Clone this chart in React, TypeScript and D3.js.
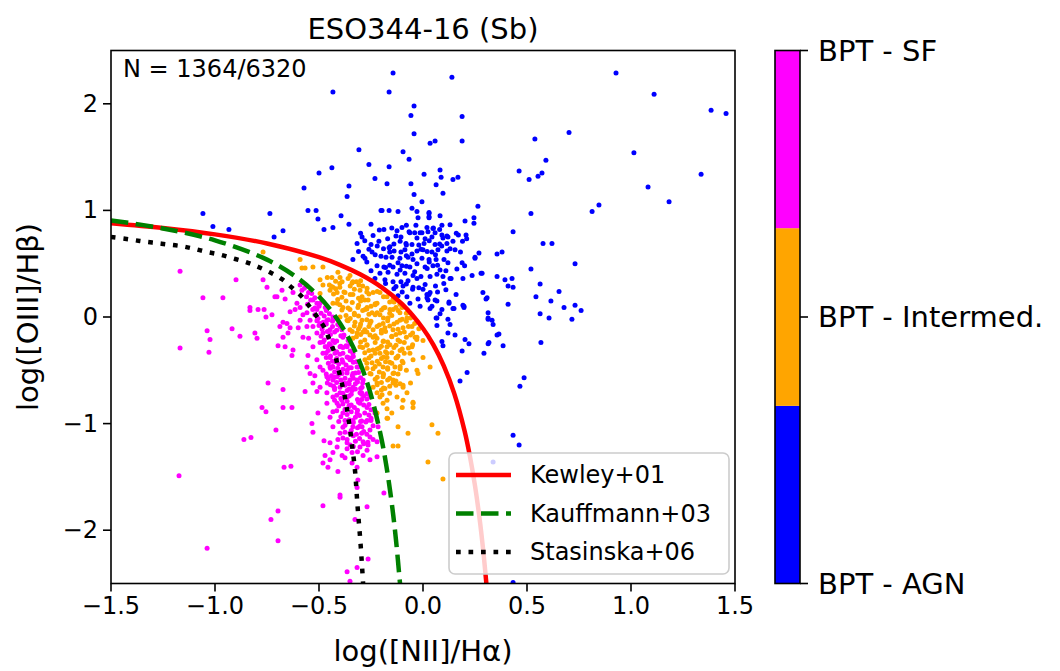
import React from "react";
import * as d3 from "d3";

// ---------- data ----------
const xTicks = [-1.5, -1.0, -0.5, 0.0, 0.5, 1.0, 1.5];
const yTicks = [-2, -1, 0, 1, 2];
const colorbarLabels = ["BPT - AGN", "BPT - Intermed.", "BPT - SF"];
const colorbarColors = ["#0000ff", "#ffa500", "#ff00ff"];
const legendLabels = ["Kewley+01", "Kauffmann+03", "Stasinska+06"];

const kewleyCurve: [number, number][] = [
  [-1.5, 0.88], [-1.25, 0.835], [-1.0, 0.775], [-0.75, 0.69], [-0.5, 0.561], [-0.4, 0.489],
  [-0.3, 0.398], [-0.2, 0.28], [-0.1, 0.12], [0.0, -0.108], [0.05, -0.262], [0.1, -0.459],
  [0.15, -0.716], [0.2, -1.069], [0.225, -1.3], [0.25, -1.583], [0.27, -1.86], [0.29, -2.199], [0.305, -2.507],
];
const kauffmannCurve: [number, number][] = [
  [-1.5, 0.906], [-1.25, 0.831], [-1.0, 0.719], [-0.75, 0.538], [-0.6, 0.362], [-0.5, 0.191],
  [-0.45, 0.08], [-0.4, -0.056], [-0.35, -0.225], [-0.3, -0.443], [-0.25, -0.733], [-0.2, -1.14],
  [-0.175, -1.411], [-0.15, -1.75], [-0.13, -2.089], [-0.11, -2.5125],
];
const stasinskaCurve: [number, number][] = [
  [-1.5, 0.75], [-1.418, 0.73], [-1.351, 0.71], [-1.288, 0.695], [-1.226, 0.68], [-1.163, 0.665],
  [-1.101, 0.64], [-1.038, 0.61], [-0.976, 0.585], [-0.913, 0.55], [-0.851, 0.515], [-0.793, 0.47],
  [-0.736, 0.42], [-0.678, 0.355], [-0.63, 0.275], [-0.582, 0.19], [-0.543, 0.09], [-0.505, -0.01],
  [-0.471, -0.11], [-0.447, -0.23], [-0.423, -0.35], [-0.409, -0.47], [-0.394, -0.59], [-0.38, -0.71],
  [-0.367, -0.84], [-0.358, -0.96], [-0.348, -1.09], [-0.341, -1.21], [-0.333, -1.33], [-0.326, -1.46],
  [-0.321, -1.59], [-0.317, -1.71], [-0.312, -1.84], [-0.307, -1.96], [-0.302, -2.08], [-0.297, -2.22],
  [-0.293, -2.34], [-0.288, -2.5],
];

const agnPoints: [number, number][] = [
  [-0.144,2.29],[-0.433,2.11],[-0.163,2.11],[-0.043,1.98],[-0.058,1.89],[-0.043,1.72],[-0.308,1.57],[-0.096,1.55],[-0.067,1.48],[-0.26,1.43],[-0.438,1.4],[-0.163,1.41],[-0.5,1.35],[-0.231,1.3],[-0.356,1.23],[-0.173,1.25],[-0.058,1.25],[-0.572,1.21],[-0.043,1.15],[-0.365,1.13],[-0.553,1.0],[-0.514,1.0],[-0.505,0.92],[-0.394,0.95],[-0.202,1.0],[-0.163,1.0],[-0.12,0.99],[-0.053,1.02],[-1.058,0.97],[-0.736,0.97],[-1.01,0.85],[-0.933,0.82],[-0.673,0.81],[-0.716,0.75],[-0.476,0.82],[-0.433,0.84],[-0.293,0.75],[-0.188,0.82],[-0.125,0.81],[-0.101,0.84],[-0.034,0.86],[-0.063,0.79],
  [0.139,2.25],[0.928,2.29],[1.111,2.09],[1.385,1.94],[1.457,1.91],[0.188,1.88],[0.034,1.63],[0.058,1.65],[0.188,1.65],[0.538,1.67],[0.702,1.73],[0.591,1.47],[1.014,1.54],[0.005,1.34],[0.082,1.38],[0.087,1.31],[0.063,1.24],[0.096,1.16],[0.144,1.29],[0.168,1.31],[0.462,1.37],[0.51,1.29],[0.553,1.32],[0.572,1.35],[1.337,1.34],[1.082,1.22],[1.183,1.08],[0.264,1.04],[-0.005,1.08],[0.029,0.98],[0.029,0.94],[0.202,0.9],[0.245,0.93],[0.245,0.88],[0.519,0.97],[0.813,0.99],[0.846,1.05],[0.091,0.86],[0.433,0.8],[0.207,0.77],[0.019,0.84],[0.048,0.83],[-0.005,0.79],[0.058,0.79],[0.12,0.75],[0.091,0.77],
  [0.577,0.69],[0.62,0.69],[0.731,0.5],[0.519,0.45],[0.38,0.61],[0.356,0.59],[0.269,0.6],[0.25,0.55],[0.188,0.51],[0.163,0.45],[0.279,0.41],[0.236,0.39],[0.356,0.38],[0.394,0.35],[0.428,0.36],[0.409,0.29],[0.433,0.28],[0.192,0.36],[0.135,0.36],[0.096,0.38],[0.563,0.31],[0.654,0.24],[0.288,0.23],[0.303,0.17],[0.543,0.19],[0.615,0.15],[0.678,0.09],[0.731,0.11],[0.76,0.06],[0.409,0.12],[0.159,0.21],[0.125,0.13],[0.144,0.08],[0.192,0.11],[0.197,0.09],[0.313,0.04],[0.313,-0.02],[0.332,-0.03],[0.337,-0.07],[0.563,0.03],[0.606,-0.01],[0.716,-0.02],[0.091,0.07],[0.082,0.03],[0.067,-0.01],[0.067,-0.08],[0.13,-0.07],[0.12,-0.15],[0.154,-0.17],[0.365,-0.16],[0.356,-0.17],[0.202,-0.21],[0.221,-0.25],[0.317,-0.24],[0.313,-0.25],[0.385,-0.27],[0.293,-0.34],[0.188,-0.32],[0.091,-0.23],[0.096,-0.27],[0.567,-0.24],[0.212,-0.52],[0.178,-0.6],[0.486,-0.57],[0.466,-0.65],[0.024,0.16],[0.0,0.26],[0.029,0.21],[0.019,0.18],[0.043,0.1],[0.058,0.16],
  [0.433,-1.11],[0.462,-1.2],[0.433,-2.49],[0.337,-1.36],
  [-0.197,1.0],[-0.029,0.99],[0.029,0.97],[-0.024,0.93],[0.029,0.93],[0.082,0.95],[-0.356,0.87],[-0.067,0.8],[-0.014,0.79],[0.024,0.8],[0.115,0.76],[-0.317,0.69],[-0.25,0.68],[-0.212,0.71],[-0.159,0.66],[-0.106,0.75],[-0.082,0.69],[-0.053,0.68],[-0.029,0.74],[0.005,0.69],[0.043,0.75],[0.058,0.68],[0.096,0.74],[0.115,0.69],[0.144,0.71],[0.154,0.63],[0.115,0.62],[0.072,0.63],[0.043,0.61],[0.0,0.63],[-0.029,0.62],[-0.053,0.59],[-0.087,0.63],[-0.106,0.61],[-0.139,0.62],[-0.163,0.65],[-0.288,0.57],[-0.279,0.55],[-0.245,0.61],[-0.202,0.57],[-0.178,0.56],[-0.149,0.56],[-0.111,0.55],[-0.072,0.56],[-0.048,0.54],[-0.005,0.55],[0.029,0.54],[0.063,0.54],[0.101,0.54],[-0.337,0.54],[-0.221,0.48],[-0.188,0.47],[-0.144,0.47],[-0.101,0.48],[-0.063,0.47],[-0.029,0.5],[0.01,0.47],[0.048,0.48],[0.082,0.44],[0.25,0.56],[-0.207,0.41],[-0.168,0.42],[-0.125,0.4],[-0.087,0.41],[-0.048,0.39],[-0.01,0.38],[0.034,0.38],[0.067,0.4],[0.13,0.36],[0.284,0.41],[-0.231,0.36],[-0.183,0.35],[-0.144,0.33],[-0.106,0.33],[-0.072,0.34],[-0.029,0.36],[-0.096,0.29],[-0.048,0.28],[0.034,0.23],[-0.12,0.2],[-0.077,0.19],[-0.024,0.17],[0.019,0.21],[0.067,0.15],[0.125,0.14],[0.197,0.1],[-0.063,0.13],[-0.014,0.1],[0.034,0.08],[0.063,-0.01],[0.12,-0.02],[0.149,0.08],[0.308,0.18],[0.313,-0.01],
  [-0.25,0.87],[-0.15,0.835],[-0.08,0.86],[0.05,0.835],[0.13,0.865],[-0.3,0.785],[-0.21,0.815],[-0.04,0.79],[0.08,0.82],[0.16,0.785],[-0.24,0.765],[-0.17,0.735],[-0.13,0.76],[0.01,0.735],[0.17,0.77],[0.21,0.735],[-0.28,0.715],[-0.14,0.685],[-0.11,0.71],[-0.02,0.675],[0.03,0.715],[0.08,0.685],[0.19,0.71],[-0.26,0.635],[-0.22,0.665],[-0.19,0.64],[-0.08,0.675],[-0.01,0.635],[0.09,0.665],[0.13,0.64],[-0.31,0.615],[-0.23,0.585],[-0.16,0.61],[-0.08,0.575],[0.02,0.615],[0.06,0.585],[0.18,0.61],[-0.27,0.515],[-0.16,0.485],[-0.12,0.51],[-0.08,0.475],[0.03,0.515],[0.07,0.485],[0.12,0.51],[0.2,0.48],[-0.25,0.435],[-0.18,0.465],[-0.11,0.44],[-0.04,0.425],[0.02,0.455],[0.11,0.435],[-0.18,0.315],[-0.13,0.285],[-0.08,0.31],[-0.02,0.275],[0.01,0.305],[0.06,0.29],[0.1,0.315],[-0.14,0.265],[-0.1,0.235],[-0.05,0.26],[0.07,0.235],[0.11,0.255],
];

const intermedPoints: [number, number][] = [
  [-0.582,0.46],[-0.481,0.47],[-0.409,0.42],[-0.351,0.39],[-0.438,0.37],[-0.389,0.33],[-0.341,0.32],[-0.308,0.3],[-0.269,0.27],[-0.24,0.23],[-0.207,0.23],[-0.173,0.19],[-0.139,0.14],[-0.101,0.09],[-0.481,0.3],[-0.447,0.25],[-0.413,0.23],[-0.375,0.23],[-0.337,0.21],[-0.293,0.19],[-0.264,0.16],[-0.221,0.13],[-0.183,0.09],[-0.144,0.07],[-0.111,0.04],[-0.077,-0.01],[-0.413,0.13],[-0.385,0.09],[-0.351,0.07],[-0.313,0.09],[-0.279,0.07],[-0.245,0.04],[-0.207,0.02],[-0.168,-0.01],[-0.125,-0.05],[-0.399,0.0],[-0.365,-0.03],[-0.327,-0.05],[-0.293,-0.03],[-0.255,-0.06],[-0.221,-0.09],[-0.183,-0.1],[-0.144,-0.12],[-0.096,-0.1],[-0.053,-0.09],[-0.038,-0.19],[0.0,-0.22],[-0.351,-0.12],[-0.317,-0.15],[-0.288,-0.14],[-0.255,-0.17],[-0.221,-0.2],[-0.192,-0.23],[-0.159,-0.26],[-0.111,-0.23],[-0.303,-0.28],[-0.269,-0.26],[-0.24,-0.31],[-0.207,-0.34],[-0.173,-0.38],[-0.125,-0.38],[-0.279,-0.4],[-0.245,-0.43],[-0.192,-0.47],[-0.135,-0.47],[-0.096,-0.43],[-0.048,-0.4],[0.0,-0.38],[-0.255,-0.53],[-0.192,-0.56],[-0.144,-0.59],[-0.096,-0.66],[-0.029,-0.5],[-0.183,-0.67],[-0.125,-0.75],[-0.077,-0.71],[-0.048,-0.81],[-0.173,-0.78],[-0.221,-0.71],[0.034,-0.47],[-0.221,-0.62],[-0.269,-0.48],
  [-0.769,0.61],[-0.591,0.54],[-0.567,0.46],[-0.529,0.47],[-0.495,0.35],[-0.433,0.28],[-0.399,0.37],[-0.337,0.33],[-0.303,0.25],[-0.144,0.17],[-0.111,0.12],[-0.063,0.04],[-0.029,-0.19],[-0.053,-0.28],[-0.063,-0.34],[-0.173,-0.34],[-0.173,-0.28],[-0.144,-0.53],[-0.192,-0.53],[-0.24,-0.66],[-0.207,-0.75],[-0.337,-0.2],[-0.433,0.13],[-0.495,0.22],[-0.269,0.09],[-0.221,0.04],[-0.192,-0.06],[-0.24,-0.12],[-0.303,-0.09],[-0.111,-0.15],[-0.111,-0.03],[-0.159,0.07],[-0.024,-0.53],
  [-0.3,0.15],[-0.25,0.1],[-0.2,-0.15],[-0.15,-0.18],[-0.1,-0.3],[-0.05,-0.15],[-0.18,-0.42],[-0.22,-0.3],[-0.28,-0.12],[-0.33,0.02],[-0.37,0.15],[-0.45,0.3],[-0.4,0.28],[-0.3,0.34],[-0.13,-0.6],[-0.08,-0.5],[-0.16,-0.65],[-0.06,-0.62],[-0.1,-0.85],[-0.15,-0.9],[-0.12,-1.03],[-0.17,-0.95],
  [-0.192,-0.81],[-0.221,-0.9],[-0.173,-0.86],[-0.173,-0.95],[-0.096,-0.78],[-0.048,-0.8],[-0.048,-0.85],[-0.072,-1.09],[-0.144,-1.21],[-0.12,-1.21],[-0.144,-0.62],[-0.096,-0.64],[-0.197,-0.73],
  [0.043,-1.01],[0.072,-1.09],[0.024,-1.36],[0.096,-1.52],
  [-0.46,0.37],[-0.42,0.335],[-0.36,0.36],[-0.32,0.33],[-0.44,0.285],[-0.4,0.315],[-0.35,0.29],[-0.29,0.29],[-0.42,0.265],[-0.38,0.235],[-0.33,0.26],[-0.27,0.235],[-0.22,0.24],[-0.43,0.215],[-0.39,0.185],[-0.35,0.21],[-0.31,0.175],[-0.26,0.215],[-0.19,0.19],[-0.41,0.165],[-0.34,0.135],[-0.28,0.16],[-0.23,0.125],[-0.16,0.14],[-0.4,0.115],[-0.36,0.085],[-0.31,0.11],[-0.27,0.075],[-0.23,0.115],[-0.19,0.085],[-0.13,0.09],[-0.39,0.065],[-0.33,0.035],[-0.29,0.06],[-0.26,0.025],[-0.2,0.065],[-0.16,0.035],[-0.12,0.06],[-0.08,0.035],[-0.37,0.015],[-0.35,-0.015],[-0.31,0.01],[-0.27,-0.025],[-0.23,0.02],[-0.19,-0.01],[-0.15,0.015],[-0.1,-0.02],[-0.06,-0.01],[-0.36,-0.035],[-0.3,-0.065],[-0.25,-0.04],[-0.21,-0.075],[-0.17,-0.035],[-0.14,-0.065],[-0.08,-0.04],[-0.04,-0.06],[-0.33,-0.085],[-0.31,-0.115],[-0.26,-0.09],[-0.2,-0.125],[-0.16,-0.085],[-0.12,-0.115],[-0.07,-0.09],[-0.02,-0.11],[-0.34,-0.135],[-0.3,-0.165],[-0.27,-0.14],[-0.23,-0.175],[-0.18,-0.135],[-0.13,-0.165],[-0.09,-0.14],[-0.06,-0.17],[-0.32,-0.185],[-0.28,-0.215],[-0.24,-0.19],[-0.19,-0.225],[-0.15,-0.185],[-0.12,-0.215],[-0.08,-0.19],[-0.03,-0.21],[-0.3,-0.235],[-0.27,-0.265],[-0.23,-0.24],[-0.2,-0.275],[-0.17,-0.235],[-0.13,-0.265],[-0.09,-0.24],[-0.05,-0.26],[-0.29,-0.285],[-0.26,-0.315],[-0.21,-0.29],[-0.18,-0.325],[-0.14,-0.285],[-0.11,-0.315],[-0.07,-0.29],[-0.28,-0.335],[-0.25,-0.365],[-0.23,-0.34],[-0.19,-0.375],[-0.15,-0.335],[-0.12,-0.365],[-0.09,-0.34],[-0.26,-0.385],[-0.22,-0.415],[-0.2,-0.39],[-0.16,-0.425],[-0.13,-0.385],[-0.1,-0.415],[-0.27,-0.435],[-0.23,-0.465],[-0.21,-0.44],[-0.17,-0.475],[-0.15,-0.435],[-0.11,-0.465],[-0.24,-0.485],[-0.21,-0.515],[-0.17,-0.49],[-0.14,-0.525],[-0.11,-0.485],[-0.25,-0.535],[-0.22,-0.565],[-0.19,-0.54],[-0.16,-0.575],[-0.12,-0.535],[-0.23,-0.585],[-0.2,-0.615],[-0.17,-0.59],[-0.11,-0.625],[-0.22,-0.635],[-0.19,-0.665],[-0.13,-0.64],[-0.2,-0.685],[-0.16,-0.715],
];

const sfPoints: [number, number][] = [
  [-1.168,0.43],[-1.058,0.18],[-0.962,0.18],[-0.899,0.35],[-1.168,-0.29],[-1.038,-0.13],[-1.024,-0.21],[-1.029,-0.33],[-0.918,-0.11],[-0.88,-0.18],[-0.808,-0.15],[-0.798,-0.2],[-0.832,0.09],[-0.832,0.06],[-0.793,0.07],[-0.764,0.07],[-0.755,0.0],[-0.726,0.02],[-0.769,0.35],[-0.75,0.28],[-0.702,0.19],[-0.663,0.17],[-0.678,0.25],[-0.639,0.05],[-0.654,-0.06],[-0.688,-0.09],[-0.649,-0.15],[-0.673,-0.19],[-0.697,-0.27],[-0.663,-0.28],[-0.625,-0.31],[-0.591,-0.03],[-0.591,0.09],[-0.558,0.04],[-0.558,-0.09],[-0.577,-0.19],[-0.553,-0.36],[-0.529,-0.28],[-0.51,-0.4],[-0.558,-0.47],[-0.543,-0.53],[-0.63,-0.36],[-0.745,-0.62],[-0.673,-0.68],[-0.567,-0.7],[-0.51,-0.7],[-0.591,0.3],[-0.582,0.25],[-0.529,0.16],[-0.51,0.07],[-0.495,-0.06],[-0.481,-0.15],[-0.462,-0.28],[-0.447,-0.38],[-0.433,-0.47],[-0.413,-0.56],[-0.399,-0.66],[-0.365,-0.75],[-0.337,-0.66],[-0.337,-0.53],[-0.351,-0.4],[-0.365,-0.28],[-0.385,-0.19],[-0.399,-0.09],[-0.433,0.0],[-0.462,0.09],[-0.606,0.13],[-0.543,-0.03],[-0.51,-0.15],[-0.495,-0.24],[-0.481,-0.34],[-0.447,-0.47],[-0.433,-0.59],[-0.399,-0.71],[-0.303,-0.71],[-0.288,-0.59],[-0.317,-0.47],[-0.337,-0.34],[-0.351,-0.25],[-0.399,-0.28],[-0.433,-0.22],[-0.447,-0.12],[-0.462,-0.03],[-0.529,-0.09],[-0.495,-0.47],[-0.462,-0.56],[-0.351,-0.59],[-0.317,-0.59],[-0.423,-0.34],[-0.389,-0.4],[-0.365,-0.5],[-0.389,-0.53],[-0.341,-0.69],[-0.433,-0.75],[-0.462,-0.71],[-0.495,-0.66],[-0.529,-0.62],[-0.481,-0.5],
  [-0.774,-0.85],[-0.755,-0.89],[-0.673,-0.85],[-0.63,-0.85],[-0.707,-1.06],[-0.861,-1.15],[-0.827,-1.13],[-0.668,-1.41],[-0.635,-1.4],[-0.697,-1.82],[-0.731,-1.9],[-0.697,-2.1],[-0.481,-1.77],[-0.399,-1.67],[-0.399,-1.69],[-0.269,-1.78],[-0.188,-1.65],[-0.457,-1.41],[-0.409,-1.45],[-0.365,-2.39],[-0.317,-2.35],[-0.264,-2.27],[-0.351,-2.48],[-0.534,-1.0],[-0.529,-1.08],[-0.505,-0.9],[-0.476,-1.16],[-0.471,-1.3],[-0.433,-1.27],[-0.389,-1.3],[-0.375,-1.32],[-0.341,-1.27],[-0.317,-1.41],[-0.313,-1.53],[-0.317,-1.6],[-0.288,-1.3],[-0.264,-1.2],[-0.288,-1.17],[-0.221,-1.31],[-0.221,-1.17],[-0.255,-1.06],[-0.269,-0.97],[-0.293,-1.03],[-0.337,-0.97],[-0.399,-1.09],[-0.433,-1.03],[-0.447,-0.94],[-0.409,-1.15],[-0.365,-1.15],[-0.351,-1.09],[-0.317,-0.9],[-0.303,-0.81],[-0.269,-0.85],[-0.231,-0.9],[-0.216,-1.03],[-0.255,-0.75],[-0.462,-0.81],[-0.413,-0.81],[-0.293,-0.66],[-0.433,-0.89],[-0.385,-0.9],[-0.337,-1.03],[-0.375,-0.97],[-0.447,-1.18],[-0.481,-1.37],[-0.447,-1.34],[-0.413,-1.22],[-0.303,-1.22],[-0.269,-1.25],[-0.255,-1.34],[-0.341,-1.37],
  [-1.173,-1.49],[-1.038,-2.17],[-0.327,-1.9],
  [-0.712,0.19],[-0.673,-0.05],[-0.625,0.23],[-0.615,0.07],[-0.639,-0.1],[-0.577,0.02],
  [-0.4,-0.35],[-0.37,-0.45],[-0.34,-0.55],[-0.31,-0.8],[-0.28,-0.9],[-0.36,-0.62],[-0.42,-0.42],[-0.45,-0.25],[-0.48,-0.05],[-0.5,0.1],[-0.44,-0.55],[-0.39,-0.78],[-0.33,-0.85],[-0.3,-0.98],[-0.35,-1.2],[-0.32,-1.1],[-0.27,-1.1],[-0.24,-1.15],[-0.38,-0.62],[-0.41,-0.48],[-0.36,-0.38],[-0.46,-0.62],[-0.52,-0.55],[-0.55,-0.2],[-0.6,-0.1],[-0.43,-0.65],[-0.395,-0.52],[-0.355,-0.83],[-0.285,-0.74],[-0.25,-0.95],
  [-0.57,0.27],[-0.55,0.23],[-0.56,0.19],[-0.535,0.22],[-0.52,0.18],[-0.54,0.16],[-0.51,0.13],[-0.495,0.13],[-0.555,0.12],[-0.52,0.085],[-0.47,0.09],[-0.53,0.07],[-0.49,0.035],[-0.465,0.06],[-0.45,0.03],[-0.52,0.02],[-0.505,-0.015],[-0.475,0.01],[-0.455,-0.025],[-0.43,-0.02],[-0.51,-0.035],[-0.465,-0.065],[-0.435,-0.04],[-0.41,-0.07],[-0.5,-0.08],[-0.485,-0.115],[-0.435,-0.09],[-0.415,-0.125],[-0.39,-0.12],[-0.46,-0.135],[-0.445,-0.165],[-0.425,-0.14],[-0.395,-0.175],[-0.38,-0.17],[-0.49,-0.18],[-0.475,-0.215],[-0.455,-0.19],[-0.415,-0.225],[-0.385,-0.185],[-0.36,-0.22],[-0.48,-0.235],[-0.445,-0.265],[-0.425,-0.24],[-0.395,-0.275],[-0.37,-0.27],[-0.47,-0.28],[-0.455,-0.315],[-0.435,-0.29],[-0.415,-0.325],[-0.385,-0.285],[-0.35,-0.32],[-0.465,-0.335],[-0.445,-0.365],[-0.385,-0.34],[-0.365,-0.375],[-0.335,-0.37],[-0.465,-0.38],[-0.435,-0.415],[-0.415,-0.39],[-0.385,-0.425],[-0.345,-0.385],[-0.32,-0.42],[-0.455,-0.435],[-0.435,-0.465],[-0.405,-0.44],[-0.355,-0.475],[-0.335,-0.425],[-0.31,-0.47],[-0.445,-0.48],[-0.425,-0.515],[-0.385,-0.49],[-0.365,-0.525],[-0.345,-0.475],[-0.31,-0.52],[-0.465,-0.535],[-0.425,-0.565],[-0.405,-0.54],[-0.375,-0.575],[-0.325,-0.525],[-0.3,-0.57],[-0.455,-0.58],[-0.415,-0.615],[-0.395,-0.59],[-0.355,-0.625],[-0.335,-0.575],[-0.315,-0.61],[-0.29,-0.62],[-0.445,-0.635],[-0.425,-0.665],[-0.375,-0.64],[-0.355,-0.675],[-0.325,-0.625],[-0.3,-0.67],[-0.425,-0.68],[-0.385,-0.715],[-0.365,-0.69],[-0.345,-0.725],[-0.325,-0.675],[-0.295,-0.71],[-0.27,-0.72],[-0.415,-0.735],[-0.395,-0.765],[-0.355,-0.74],[-0.315,-0.775],[-0.295,-0.725],[-0.27,-0.77],[-0.425,-0.78],[-0.385,-0.815],[-0.365,-0.79],[-0.345,-0.825],[-0.295,-0.775],[-0.26,-0.82],[-0.405,-0.835],[-0.375,-0.865],[-0.355,-0.84],[-0.315,-0.875],[-0.285,-0.825],[-0.25,-0.87],[-0.415,-0.88],[-0.365,-0.915],[-0.345,-0.89],[-0.305,-0.925],[-0.26,-0.92],[-0.395,-0.935],[-0.355,-0.965],[-0.325,-0.94],[-0.295,-0.975],[-0.25,-0.97],[-0.405,-0.98],[-0.375,-1.015],[-0.335,-0.99],[-0.305,-1.025],[-0.275,-0.985],[-0.24,-1.02],[-0.385,-1.035],[-0.345,-1.065],[-0.315,-1.04],[-0.285,-1.075],[-0.375,-1.08],[-0.335,-1.115],[-0.295,-1.09],[-0.255,-1.125],[-0.385,-1.135],[-0.325,-1.165],[-0.305,-1.14],[-0.265,-1.175],[-0.365,-1.18],[-0.335,-1.215],[-0.285,-1.19],[-0.365,-1.235],[-0.315,-1.265],
];

// ---------- layout ----------
const W = 1060, H = 671;
const PL = 111, PR = 735, PT = 50.5, PB = 583.5;
const CBX = 775, CBW = 25;
const FONT = "'DejaVu Sans', Verdana, sans-serif";
const fmtMinus = (s: string) => s.replace("-", "\u2212");

export default function App() {
  const x = d3.scaleLinear().domain([-1.5, 1.5]).range([PL, PR]);
  const y = d3.scaleLinear().domain([-2.5, 2.5]).range([PB, PT]);
  const line = d3.line<[number, number]>().x(d => x(d[0])).y(d => y(d[1])).curve(d3.curveCatmullRom.alpha(0.5));
  const cb = d3.scaleLinear().domain([0, 3]).range([PB, PT]);
  const R = 2.5;

  const legendX = 449, legendY = 453, legendW = 280, legendH = 121;
  const rowY = [475, 513.5, 552];
  const styles = [
    { stroke: "#ff0000", dash: undefined as string | undefined },
    { stroke: "#008000", dash: "17.5,7.5" },
    { stroke: "#000000", dash: "4.7,7.8" },
  ];

  return (
    <svg width={W} height={H} style={{ position: "absolute", left: 0, top: 0, background: "#fff" }} fontFamily={FONT}>
      <defs>
        <clipPath id="plotclip"><rect x={PL} y={PT} width={PR - PL} height={PB - PT} /></clipPath>
      </defs>
      <rect x={0} y={0} width={W} height={H} fill="#fff" />
      <text x={(PL + PR) / 2} y={39} textAnchor="middle" fontSize={29} fill="#000">ESO344-16 (Sb)</text>

      <g clipPath="url(#plotclip)">
        {agnPoints.map((p, i) => <circle key={"a" + i} cx={x(p[0])} cy={y(p[1])} r={R} fill="#0000ff" />)}
        {sfPoints.map((p, i) => <circle key={"s" + i} cx={x(p[0])} cy={y(p[1])} r={R} fill="#ff00ff" />)}
        {intermedPoints.map((p, i) => <circle key={"o" + i} cx={x(p[0])} cy={y(p[1])} r={R} fill="#ffa500" />)}
        <path d={line(kewleyCurve) || ""} fill="none" stroke="#ff0000" strokeWidth={4.5} />
        <path d={line(kauffmannCurve) || ""} fill="none" stroke="#008000" strokeWidth={4.5} strokeDasharray="17.5,7.5" />
        <path d={line(stasinskaCurve) || ""} fill="none" stroke="#000" strokeWidth={4.5} strokeDasharray="4.7,7.8" />
      </g>

      <rect x={PL} y={PT} width={PR - PL} height={PB - PT} fill="none" stroke="#000" strokeWidth={1.6} />
      {xTicks.map(t => (
        <g key={"xt" + t}>
          <line x1={x(t)} x2={x(t)} y1={PB} y2={PB + 8} stroke="#000" strokeWidth={1.6} />
          <text x={x(t)} y={614} textAnchor="middle" fontSize={24}>{fmtMinus(t.toFixed(1))}</text>
        </g>
      ))}
      {yTicks.map(t => (
        <g key={"yt" + t}>
          <line x1={PL - 8} x2={PL} y1={y(t)} y2={y(t)} stroke="#000" strokeWidth={1.6} />
          <text x={PL - 13} y={y(t)} textAnchor="end" dominantBaseline="central" fontSize={24}>{fmtMinus(String(t))}</text>
        </g>
      ))}
      <text x={(PL + PR) / 2} y={661} textAnchor="middle" fontSize={29}>log([NII]/Hα)</text>
      <text transform={`translate(38,${(PT + PB) / 2}) rotate(-90)`} textAnchor="middle" fontSize={29}>log([OIII]/Hβ)</text>
      <text x={123} y={77} fontSize={24}>N = 1364/6320</text>

      <rect x={legendX} y={legendY} width={legendW} height={legendH} rx={6} fill="#fff" fillOpacity={0.8} stroke="#cccccc" strokeWidth={1.6} />
      {legendLabels.map((l, i) => (
        <g key={l}>
          <line x1={456} x2={511} y1={rowY[i]} y2={rowY[i]} stroke={styles[i].stroke} strokeWidth={4.5} strokeDasharray={styles[i].dash} />
          <text x={530} y={rowY[i]} dominantBaseline="central" fontSize={24}>{l}</text>
        </g>
      ))}

      {colorbarColors.map((c, i) => (
        <rect key={c} x={CBX} y={cb(i + 1)} width={CBW} height={cb(i) - cb(i + 1)} fill={c} />
      ))}
      <rect x={CBX} y={PT} width={CBW} height={PB - PT} fill="none" stroke="#000" strokeWidth={1.6} />
      {colorbarLabels.map((l, i) => {
        const ty = PB - (i / 2) * (PB - PT);
        return (
          <g key={l}>
            <line x1={CBX + CBW} x2={CBX + CBW + 8} y1={ty} y2={ty} stroke="#000" strokeWidth={1.6} />
            <text x={818} y={ty} dominantBaseline="central" fontSize={29}>{l}</text>
          </g>
        );
      })}
    </svg>
  );
}
